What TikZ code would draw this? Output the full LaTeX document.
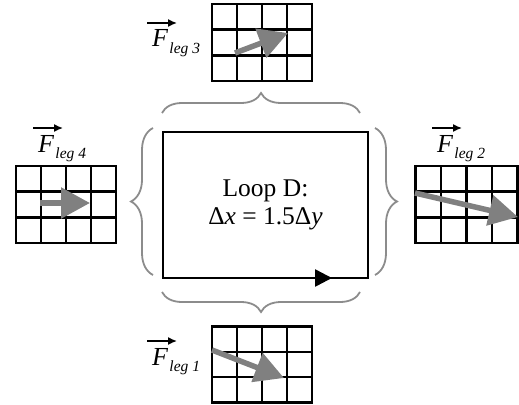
\documentclass[tikz,border=0pt]{standalone}
\usepackage{fontspec}
\setmainfont{Liberation Serif}
\usetikzlibrary{arrows.meta,decorations.pathreplacing}
\definecolor{arrowgray}{RGB}{128,128,128}
\definecolor{bracegray}{RGB}{140,140,140}
\newcommand\cellgrid[4]{%
  \foreach \i in {0,...,4} \draw[gridline] (#1+\i*#3, #2) -- (#1+\i*#3, #2+3*#4);
  \foreach \j in {0,...,3} \draw[gridline] (#1, #2+\j*#4) -- (#1+4*#3, #2+\j*#4);
}
\newcommand\forcelabel[4]{%
  \node[fsym] (#1) at (#2,#3) {F};
  \node[fsub] (#1s) at ([xshift=1pt,yshift=-6pt]#1.base east) {leg #4};
  \coordinate (#1a) at ([xshift=-5pt,yshift=24pt]#1.base west);
  \coordinate (#1b) at ([xshift=25pt,yshift=24pt]#1.base west);
  \draw[vecarrow] (#1a) -- (#1b);
}
\begin{document}
\begin{tikzpicture}[x=1pt,y=-1pt,
  gridline/.style={line width=2.6pt, black, line cap=rect},
  forcearrow/.style={arrowgray, line width=5.5pt, -{Triangle[length=29pt,width=30pt]}},
  bracestyle/.style={bracegray, line width=1.8pt, decorate, decoration={brace, amplitude=#1}},
  fsym/.style={inner sep=0pt, anchor=base west, font=\fontsize{26}{30}\selectfont\itshape},
  fsub/.style={inner sep=0pt, anchor=base west, font=\fontsize{15.5}{18}\selectfont\itshape},
  vecarrow/.style={line width=1.5pt, -{Latex[length=9pt,width=8pt]}},
  mainbox/.style={draw=black, line width=2.6pt, outer sep=0pt, minimum width=205pt, minimum height=146pt, align=center,
    font=\fontsize{25.5}{28}\selectfont, inner sep=0pt}
]
\useasboundingbox (0,0) rectangle (519,404);

% main loop
\node[mainbox] (box) at (265.5,205) {Loop D:\\ Δ\textit{x} = 1.5Δ\textit{y}};
\coordinate (looptip) at ([xshift=-36pt]box.south east);
\draw[line width=2.6pt, -{Triangle[length=17pt,width=17pt]}] (box.south west) -- (looptip);

% braces
\coordinate (tb1) at (162,113); \coordinate (tb2) at (360,113);
\coordinate (bb1) at (360,292); \coordinate (bb2) at (162,292);
\coordinate (lb1) at (153,275); \coordinate (lb2) at (153,128);
\coordinate (rb1) at (375,128); \coordinate (rb2) at (375,275);
\draw[bracestyle=20pt] (tb1) -- (tb2);
\draw[bracestyle=20pt] (bb1) -- (bb2);
\draw[bracestyle=22pt] (lb1) -- (lb2);
\draw[bracestyle=22pt] (rb1) -- (rb2);

% grids
\cellgrid{212}{4}{25}{25.7}
\cellgrid{16}{166}{25}{25.7}
\cellgrid{415.5}{166}{25.5}{25.7}
\cellgrid{212}{326.5}{25}{25.3}

% force arrows
\coordinate (a3s) at (235,53);  \coordinate (a3e) at (288,33);
\coordinate (a4s) at (40,203);  \coordinate (a4e) at (90,203);
\coordinate (a2s) at (415,193); \coordinate (a2e) at (518,217);
\coordinate (a1s) at (212,350); \coordinate (a1e) at (284,378);
\draw[forcearrow] (a3s) -- (a3e);
\draw[forcearrow] (a4s) -- (a4e);
\draw[forcearrow] (a2s) -- (a2e);
\draw[forcearrow] (a1s) -- (a1e);

% labels
\forcelabel{f3}{152}{47}{3}
\forcelabel{f4}{38}{152}{4}
\forcelabel{f2}{437}{152}{2}
\forcelabel{f1}{152}{365}{1}
\end{tikzpicture}
\end{document}
